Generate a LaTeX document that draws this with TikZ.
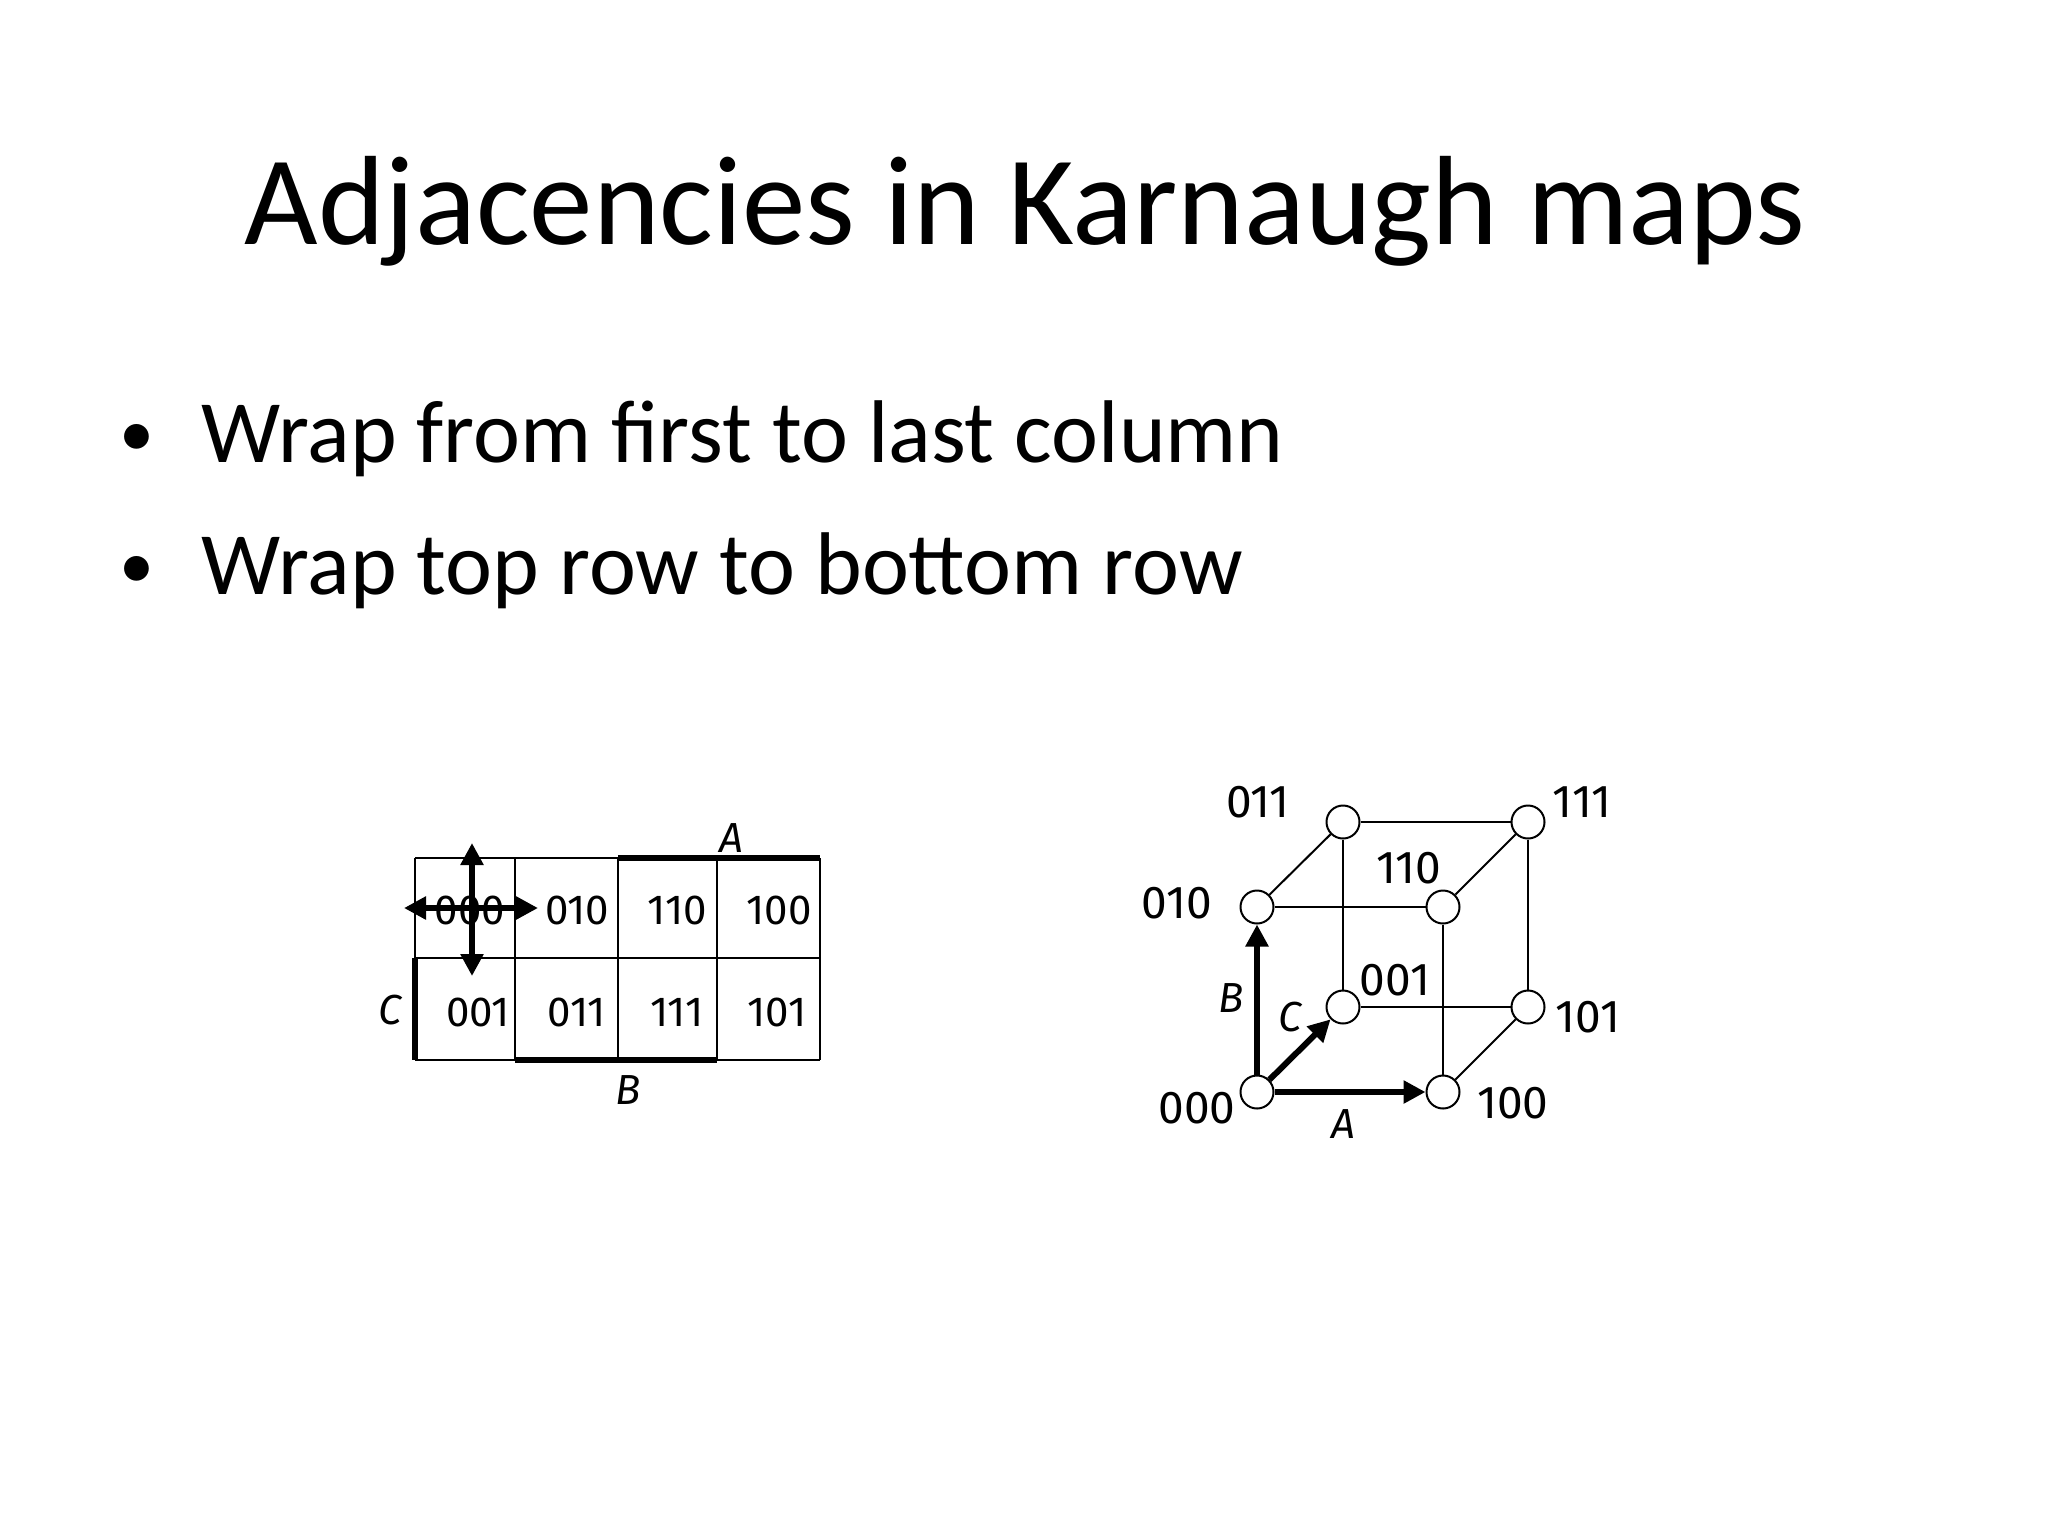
\documentclass[tikz,border=0pt]{standalone}
\usepackage{fontspec}
\setmainfont{Carlito}
\newfontfamily\cf{Fira Sans}
\usetikzlibrary{arrows.meta}
\begin{document}
\begin{tikzpicture}[x=1pt,y=-1pt,
  cell/.style={font=\cf\fontsize{42}{44}\selectfont},
  clab/.style={font=\cf\fontsize{46}{48}\selectfont},
  lab/.style={font=\cf\itshape\fontsize{42}{44}\selectfont},
  vtx/.style={circle,draw,line width=2pt,fill=white,minimum size=33pt,inner sep=0pt},
  edge/.style={line width=2pt},
  thick3/.style={line width=6pt},
  arr/.style={line width=6pt,-{Triangle[length=22pt,width=22pt]}},
  darr/.style={line width=6pt,{Triangle[length=22pt,width=22pt]}-{Triangle[length=22pt,width=22pt]}}]
\useasboundingbox (0,0) rectangle (2048,1535);
\node[anchor=base,font=\fontsize{127}{130}\selectfont] (title) at (1025,244) {Adjacencies in Karnaugh maps};
\node[anchor=base west,font=\fontsize{89}{94}\selectfont] (b1) at (198,462) {Wrap from first to last column};
\node[anchor=base west,font=\fontsize{89}{94}\selectfont] (b2) at (198,594) {Wrap top row to bottom row};
\node[anchor=base,font=\fontsize{70}{74}\selectfont] (d1) at (137,456) {•};
\node[anchor=base,font=\fontsize{70}{74}\selectfont] (d2) at (137,588) {•};
% K-map grid
\foreach \x in {415,515,618,717,820} \draw[edge] (\x,858) -- (\x,1060);
\foreach \y in {858,958,1060} \draw[edge] (415,\y) -- (820,\y);
\coordinate (a1) at (618,858); \coordinate (a2) at (820,858);
\coordinate (bb1) at (515,1060); \coordinate (bb2) at (717,1060);
\coordinate (c1) at (415,958); \coordinate (c2) at (415,1060);
\draw[thick3] (a1) -- (a2);
\draw[thick3] (bb1) -- (bb2);
\draw[thick3] (c1) -- (c2);
\node[lab] (kA) at (731,838) {A};
\node[lab] (kB) at (628,1090) {B};
\node[lab] (kC) at (390,1010) {C};
\foreach \t/\x/\y in {000/470/910,010/577/910,110/677/910,100/779/910,001/478/1012,011/577/1012,111/677/1012,101/777/1012}
  \node[cell] (k\t) at (\x,\y) {\t};
\coordinate (v1) at (472,843); \coordinate (v2) at (472,976);
\coordinate (h1) at (404,908); \coordinate (h2) at (538,908);
\draw[darr] (v1) -- (v2);
\draw[darr] (h1) -- (h2);
% cube
\node[vtx] (n000) at (1257,1092) {};
\node[vtx] (n100) at (1443,1092) {};
\node[vtx] (n010) at (1257,907) {};
\node[vtx] (n110) at (1443,907) {};
\node[vtx] (n001) at (1343,1007) {};
\node[vtx] (n101) at (1528,1007) {};
\node[vtx] (n011) at (1343,822) {};
\node[vtx] (n111) at (1528,822) {};
\draw[edge] (n010) -- (n110);
\draw[edge] (n010) -- (n011);
\draw[edge] (n011) -- (n111);
\draw[edge] (n110) -- (n111);
\draw[edge] (n011) -- (n001);
\draw[edge] (n111) -- (n101);
\draw[edge] (n001) -- (n101);
\draw[edge] (n110) -- (n100);
\draw[edge] (n100) -- (n101);
\draw[arr] (n000) -- (n010);
\draw[arr] (n000) -- (n100);
\draw[arr] (n000) -- (n001);
\foreach \t/\x/\y in {011/1258/802,111/1582/802,110/1409/868,010/1177/903,001/1395/980,101/1588/1017,100/1513/1103,000/1197/1108}
  \node[clab] (l\t) at (\x,\y) {\t};
\node[lab] (cB) at (1231,998) {B};
\node[lab] (cC) at (1290,1017) {C};
\node[lab] (cA) at (1343,1124) {A};
\end{tikzpicture}
\end{document}
